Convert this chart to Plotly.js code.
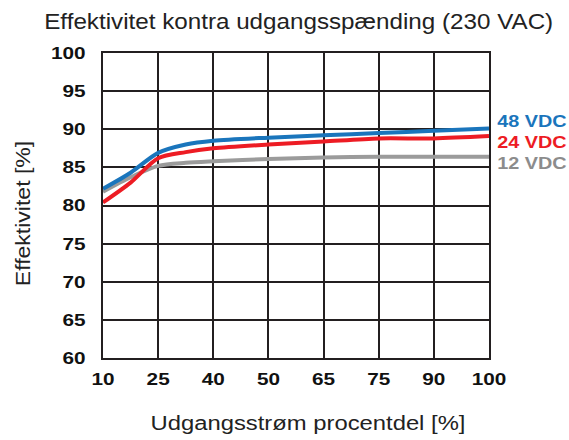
<!DOCTYPE html>
<html><head><meta charset="utf-8">
<script src="https://cdn.plot.ly/plotly-3.0.1.min.js"></script>
<style>html,body{margin:0;padding:0;background:#fff}#c{width:569px;height:440px}</style>
</head><body><div id="c"></div>
<script>
// x positions on the evenly spaced category scale (0 = 10%, 7 = 100%)
const xTickLabels = ['10','25','40','50','65','75','90','100'];
const xPos   = [0, 0.5, 1, 1.5, 2, 3, 4, 5, 6, 7];
const eff48  = [82.2, 84.3, 86.9, 88.0, 88.5, 88.9, 89.2, 89.5, 89.8, 90.1];
const eff24  = [80.4, 83.0, 86.2, 87.0, 87.5, 88.0, 88.4, 88.8, 88.8, 89.1];
const eff12  = [81.8, 83.7, 85.2, 85.6, 85.8, 86.1, 86.3, 86.4, 86.4, 86.4];
const seriesNames = ['48 VDC','24 VDC','12 VDC'];
const colors = ['#1a75bc','#ed1c24','#9b9b9b'];
const labelColors = ['#1a75bc','#ed1c24','#8c8c8c'];
const labelY = [91.1, 88.35, 85.6];

const FONT = 'Liberation Sans, Arial, sans-serif';
const ys = [eff48, eff24, eff12];
const order = [2,1,0];
const traces = order.map(i => ({
  x: xPos, y: ys[i], type:'scatter', mode:'lines', name: seriesNames[i],
  line:{color: colors[i], width:4, shape:'spline', smoothing:0.8},
  hoverinfo:'skip'
}));

const annotations = seriesNames.map((n,i)=>({
  text:'<b>'+n+'</b>', xref:'paper', x:1, xanchor:'left', xshift:12,
  yref:'y', y: labelY[i], yanchor:'middle', showarrow:false,
  font:{family:FONT, size:16.5, color: labelColors[i]}
}));

const layout = {
  width:569, height:440,
  margin:{l:103, r:80, t:53, b:82},
  paper_bgcolor:'#fff', plot_bgcolor:'#fff',
  showlegend:false,
  font:{family:FONT, color:'#111'},
  title:{text:'Effektivitet kontra udgangsspænding (230 VAC)', x:0.525, xanchor:'center', y:0.952, yanchor:'middle',
    font:{family:FONT, size:22, color:'#222'}},
  xaxis:{
    range:[0,7], tickmode:'array', tickvals:[0,1,2,3,4,5,6,7], ticktext: xTickLabels,
    showgrid:true, gridcolor:'#231f20', gridwidth:2, zeroline:false,
    showline:true, linecolor:'#231f20', linewidth:2, mirror:true,
    ticks:'outside', ticklen:5, tickcolor:'rgba(0,0,0,0)',
    tickfont:{family:FONT, size:17, color:'#111', weight:'bold'},
    title:{text:'Udgangsstrøm procentdel [%]', standoff:28,
      font:{family:FONT, size:20, color:'#222'}}
  },
  yaxis:{
    range:[60,100], tickmode:'array', tickvals:[60,65,70,75,80,85,90,95,100],
    showgrid:true, gridcolor:'#231f20', gridwidth:2, zeroline:false,
    showline:true, linecolor:'#231f20', linewidth:2, mirror:true,
    ticks:'outside', ticklen:12, tickcolor:'rgba(0,0,0,0)',
    tickfont:{family:FONT, size:17, color:'#111', weight:'bold'},
    title:{text:'Effektivitet [%]', standoff:21,
      font:{family:FONT, size:20, color:'#222'}}
  },
  annotations
};

function stretch(sel, k){
  document.querySelectorAll(sel).forEach(t=>{
    const L = t.getComputedTextLength();
    if (L > 0) { t.setAttribute('textLength', (L*k).toFixed(2)); t.setAttribute('lengthAdjust','spacingAndGlyphs'); }
  });
}
function shiftX(sel, dx){
  document.querySelectorAll(sel).forEach(t=>{
    const x = parseFloat(t.getAttribute('x')||'0');
    t.setAttribute('x', (x+dx).toFixed(2));
  });
}
Plotly.newPlot('c', traces, layout, {displayModeBar:false, staticPlot:true}).then(()=>{
  stretch('#c .xtick text', 1.22);
  stretch('#c .ytick text', 1.22);
  stretch('#c .annotation-text', 1.2);
  stretch('#c text.xtitle', 1.19);
  stretch('#c text.ytitle', 1.15);
  stretch('#c text.gtitle', 1.1);
  shiftX('#c text.xtitle', 12);
  shiftX('#c text.ytitle', -8);
});
</script></body></html>
